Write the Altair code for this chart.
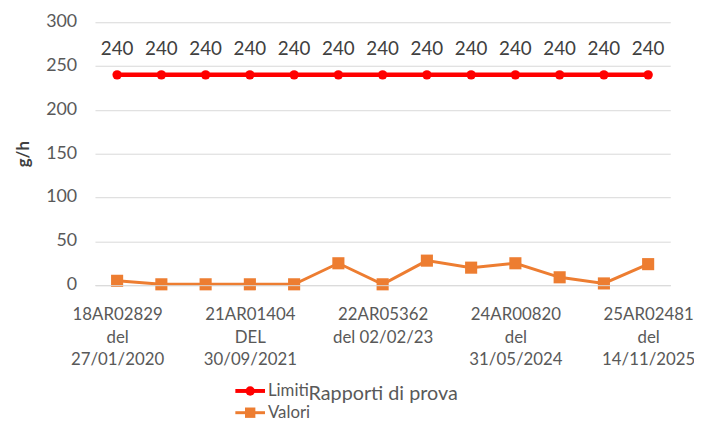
import altair as alt
import pandas as pd

idx = list(range(13))
limiti = [240] * 13
valori = [5, 1, 1, 1, 1, 25, 1, 28, 20, 25, 9, 2, 24]
tick_labels = {
    0: ["18AR02829", "del", "27/01/2020"],
    3: ["21AR01404", "DEL", "30/09/2021"],
    6: ["22AR05362", "del 02/02/23"],
    9: ["24AR00820", "del", "31/05/2024"],
    12: ["25AR02481", "del", "14/11/2025"],
}
y_ticks = [0, 50, 100, 150, 200, 250, 300]
series_names = ["Limiti", "Valori"]
colors = ["#FF0000", "#ED7D31"]

df = pd.DataFrame(
    [{"i": i, "v": v, "s": "Limiti"} for i, v in zip(idx, limiti)]
    + [{"i": i, "v": v, "s": "Valori"} for i, v in zip(idx, valori)]
)
legend_df = pd.DataFrame({"s": series_names})
ytick_df = pd.DataFrame({"v": y_ticks})

parts = []
for k, lines in tick_labels.items():
    arr = "[" + ",".join("'" + t + "'" for t in lines) + "]"
    parts.append(f"datum.value == {k} ? {arr}")
label_expr = " : ".join(parts) + " : ''"

FONT = "Lato"
GRAY = "#595959"

x = alt.X(
    "i:O",
    title="Rapporti di prova",
    scale=alt.Scale(paddingInner=0, paddingOuter=0.5),
    axis=alt.Axis(
        labelExpr=label_expr,
        labelAngle=0,
        labelOverlap=False,
        labelBound=False,
        labelFlush=False,
        labelFontSize=17,
        labelColor=GRAY,
        labelLineHeight=22.5,
        labelPadding=22,
        labelBaseline="top",
        ticks=False,
        domainColor="#D9D9D9",
        titleFontSize=20,
        titleFontWeight="normal",
        titleColor=GRAY,
        titleY=110,
        titleBaseline="middle",
        zindex=1,
    ),
)
y_scale = alt.Scale(domain=[0, 300], nice=False)
y = alt.Y(
    "v:Q",
    title="g/h",
    scale=y_scale,
    axis=alt.Axis(
        values=y_ticks,
        labels=False,
        ticks=False,
        domain=False,
        gridColor="#D9D9D9",
        titleFontSize=17,
        titleFontWeight="bold",
        titleColor="#404040",
        titleX=-72,
        titleY=133,
        titleAngle=270,
        titleAlign="center",
        titleBaseline="middle",
    ),
)

color_scale = alt.Scale(domain=series_names, range=colors)
color = alt.Color("s:N", scale=color_scale, legend=None)

base = alt.Chart(df)
lines = base.mark_line().encode(
    x=x,
    y=y,
    color=color,
    strokeWidth=alt.StrokeWidth(
        "s:N", scale=alt.Scale(domain=series_names, range=[4.5, 3]), legend=None
    ),
)
circles = (
    base.transform_filter(alt.datum.s == "Limiti")
    .mark_point(filled=True, opacity=1, shape="circle", size=90)
    .encode(x=x, y=y, color=color)
)
squares = (
    base.transform_filter(alt.datum.s == "Valori")
    .mark_point(filled=True, opacity=1, shape="square", size=150)
    .encode(x=x, y=y, color=color)
)
labels = (
    base.transform_filter(alt.datum.s == "Limiti")
    .mark_text(dy=-26, fontSize=19, color="#404040", font=FONT)
    .encode(x=x, y=y, text=alt.Text("v:Q"))
)

# y tick labels, placed through the same y scale
ylabels = alt.Chart(ytick_df).mark_text(
    align="right", baseline="middle", fontSize=18, color=GRAY, font=FONT
).encode(x=alt.value(-18), y=alt.Y("v:Q", scale=y_scale), text="v:Q")

# hand-made legend (line + marker swatches), placed below the axis like the original
leg = alt.Chart(legend_df)
legend_layers = []
for name, col, shape, size, sw, row_y in [
    ("Limiti", colors[0], "circle", 90, 4, 373),
    ("Valori", colors[1], "square", 110, 3, 395),
]:
    sub = leg.transform_filter(alt.datum.s == name)
    legend_layers.append(
        sub.mark_rule(color=col, strokeWidth=sw).encode(
            x=alt.value(142), x2=alt.value(172), y=alt.value(row_y)
        )
    )
    legend_layers.append(
        sub.mark_point(filled=True, opacity=1, shape=shape, size=size, color=col).encode(
            x=alt.value(157), y=alt.value(row_y)
        )
    )
    legend_layers.append(
        sub.mark_text(align="left", baseline="middle", fontSize=17, color=GRAY, font=FONT).encode(
            x=alt.value(175), y=alt.value(row_y), text="s:N"
        )
    )

chart = (
    alt.layer(lines, circles, squares, labels, ylabels, *legend_layers)
    .properties(
        width=582,
        height=266,
        autosize=alt.AutoSizeParams(type="none"),
        padding={"left": 88, "top": 12, "right": 24, "bottom": 136},
    )
    .configure(font=FONT)
    .configure_view(stroke=None)
)

chart.save("out.html", embed_options={"renderer": "svg", "actions": False})
